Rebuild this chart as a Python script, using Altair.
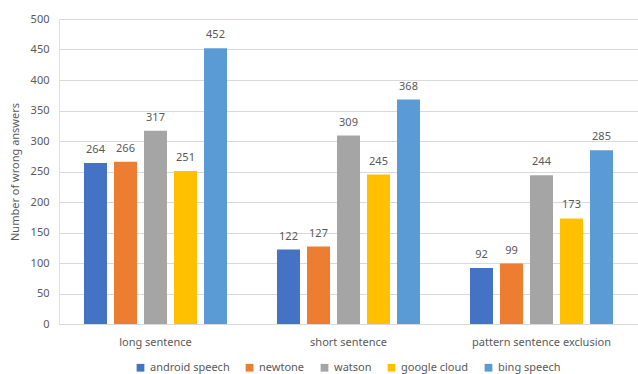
import altair as alt
import pandas as pd

categories = ["long sentence", "short sentence", "pattern sentence exclusion"]
series = ["android speech", "newtone", "watson", "google cloud", "bing speech"]
values = {
    "android speech": [264, 122, 92],
    "newtone": [266, 127, 99],
    "watson": [317, 309, 244],
    "google cloud": [251, 245, 173],
    "bing speech": [452, 368, 285],
}
colors = ["#4472C4", "#ED7D31", "#A5A5A5", "#FFC000", "#5B9BD5"]
y_ticks = [0, 50, 100, 150, 200, 250, 300, 350, 400, 450, 500]

rows = []
for s in series:
    for c, v in zip(categories, values[s]):
        rows.append({"category": c, "series": s, "value": v})
df = pd.DataFrame(rows)

FONT = "Noto Sans"
GRAY = "#595959"

base = alt.Chart(df).encode(
    x=alt.X("category:N", sort=categories,
            scale=alt.Scale(paddingInner=0, paddingOuter=0),
            axis=alt.Axis(title=None, labelAngle=0, ticks=False, domain=True,
                          domainColor="#d9d9d9", labelColor=GRAY, labelFontSize=11,
                          labelFont=FONT, labelPadding=12)),
    xOffset=alt.XOffset("series:N", sort=series,
                        scale=alt.Scale(paddingInner=0.233, paddingOuter=0.833)),
    y=alt.Y("value:Q", scale=alt.Scale(domain=[0, 500], nice=False),
            axis=alt.Axis(title="Number of wrong answers", values=y_ticks,
                          domain=False, ticks=False, gridColor="#d9d9d9",
                          labelColor=GRAY, labelFontSize=11, labelFont=FONT,
                          titleColor=GRAY, titleFontSize=11, titleFont=FONT,
                          titleFontWeight="normal", labelPadding=10, titlePadding=10)),
)

bars = base.mark_bar().encode(
    color=alt.Color("series:N", sort=series,
                    scale=alt.Scale(domain=series, range=colors),
                    legend=alt.Legend(title=None, orient="none", direction="horizontal",
                                      legendX=76, legendY=343, symbolType="square",
                                      symbolSize=60, labelFontSize=11, labelFont=FONT,
                                      labelColor=GRAY, columnPadding=14,
                                      symbolStrokeWidth=0)),
)

labels = base.mark_text(dy=-13, fontSize=11, font=FONT, color=GRAY).encode(
    text=alt.Text("value:Q"),
)

chart = (bars + labels).properties(
    width=579, height=305,
    autosize=alt.AutoSizeParams(type="none"),
    padding={"left": 59, "top": 19, "right": 0, "bottom": 50},
).configure_view(stroke=None).configure(background="white")

chart.save("out.html", embed_options={"renderer": "svg", "actions": False})
